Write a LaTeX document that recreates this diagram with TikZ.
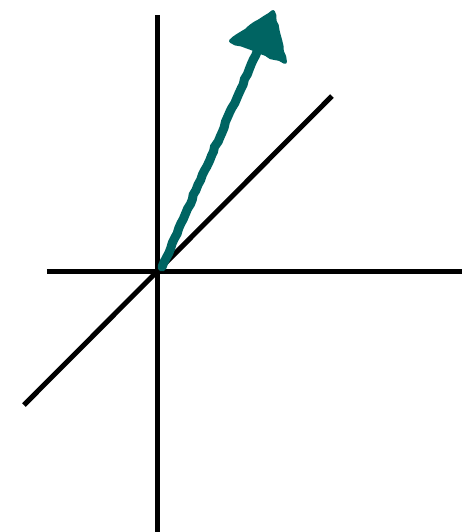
\documentclass[tikz,border=0pt]{standalone}
\usepackage{xcolor}
\usetikzlibrary{decorations.pathmorphing}
\definecolor{vecteal}{RGB}{0,100,98}

\begin{document}
\begin{tikzpicture}[x=0.02cm,y=-0.02cm,
    axisline/.style={draw=black,line width=5*0.02cm},
    vecline/.style={draw=vecteal,line width=9*0.02cm,line cap=round,
      decoration={random steps,segment length=3pt,amplitude=0.4pt},decorate},
    vechead/.style={fill=vecteal,draw=vecteal,line width=4*0.02cm,line join=round,
      decoration={random steps,segment length=3pt,amplitude=0.5pt},decorate}]
      \useasboundingbox (0,0) rectangle (462,532);

      % Axes
      \coordinate (O) at (157,271);
      \coordinate (ztop) at (157,15);
      \coordinate (zbot) at (157,532);
      \coordinate (xleft) at (47,271);
      \coordinate (xright) at (462,271);
      \coordinate (ylow) at (24,405);
      \coordinate (yhigh) at (332,96);
      \draw[axisline] (ztop) -- (zbot);
      \draw[axisline] (xleft) -- (xright);
      \draw[axisline] (ylow) -- (yhigh);

      % Vector
      \coordinate (vstart) at (162,267);
      \coordinate (vend) at (257,52);
      \coordinate (tip) at (273,12);
      \coordinate (hleft) at (231,41);
      \coordinate (hright) at (285,62);
      \draw[vecline] (vstart) -- (vend);
      \filldraw[vechead] (tip) -- (hleft) -- (hright) -- cycle;
\end{tikzpicture}
\end{document}
